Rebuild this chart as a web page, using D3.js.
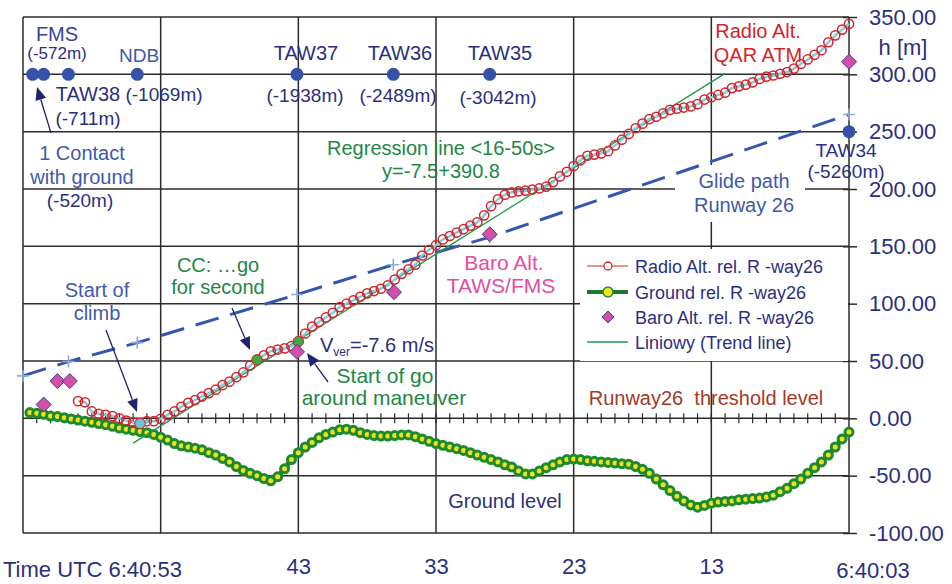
<!DOCTYPE html>
<html><head><meta charset="utf-8">
<script src="https://cdn.jsdelivr.net/npm/d3@7"></script>
<style>
body{margin:0;background:#fff}
svg{display:block}
text{font-family:"Liberation Sans",Arial,sans-serif}
</style>
</head><body>
<svg id="c" width="952" height="584"></svg>
<script>
// ---------- DATA ----------
// time = seconds after 6:40:00 UTC (axis runs from 6:41:03 on the left to 6:40:03 on the right)
const radioStartT = 59, groundStartT = 62.5, sampleStep = 0.5;
const radioAlt = [15,14,6,4,3,2,0,-2,-3.5,-4.5,
  -2.5,-2.5,-0.5,3,6,10,13.5,16,19,22,
  25,29,32,36,40,46,51,55,58.5,60,
  61,63,67,74,80,84,88,92,97,100,
  103,106,109,111,113,116,121,126,130,134,
  142,147,151,156,159,162,165,168,171,177,
  185,191,195,197,198,198.5,199.5,200.5,202,206,
  211,215,220,225,229,230,231,233,238,243,
  248,253,257,261,263,266,269,270,271,272,
  274,278,280,282,284,288,289.5,291,293,296,
  298,299,300.5,302,305,309,313,317,321,328,
  334,339,344];
const groundAlt = [5,4.5,3.5,2,1.5,0.5,-0.5,-1.5,-2.5,-3.5,
  -4.5,-5.5,-7,-8.5,-9.5,-10.5,-11.5,-12.5,-14,-16.5,
  -19,-22,-24,-25,-26,-27.5,-30,-32,-35,-38,
  -42,-45.5,-48,-50,-52.5,-54.5,-51,-44,-36,-30,
  -25,-21,-17,-14,-12,-10,-9.5,-10.5,-12.5,-14,
  -15,-15.5,-15.5,-15,-14.5,-14.5,-16,-18,-20,-22,
  -23.5,-25,-26.5,-28,-30,-32,-34,-36,-38,-40.5,
  -42.5,-46,-48.5,-48.5,-46,-43,-40.5,-38,-36,-35.5,
  -36,-37,-37.5,-38,-38.5,-39,-39.5,-40,-42,-44.5,
  -48,-53,-58,-63,-68,-72,-75.5,-77.5,-76,-74,
  -73,-72.5,-72,-71,-70.5,-70,-69.5,-68.5,-67,-64,
  -61,-57,-53,-48,-43,-38,-32,-25,-18,-12];
const baroT = [61.5,60.5,59.6,43.1,36.05,29.1,3];
const baroAlt = [12,32.5,32.5,58,110,160.5,311];
const waypointNames = ["Contact","FMS","TAW38","NDB","TAW37","TAW36","TAW35","TAW34"];
const waypointT = [62.3,61.5,59.7,54.7,43.1,36.1,29.1,3];
const waypointH = [300,300,300,300,300,300,300,250];
const glideT = [63,59.7,54.7,43.1,36.1,29.1,3];
const glideH = [37,49.5,66,108,134,158,265];
const trendRange = [55,12];           // regression fitted <16-50s>
const trendCoef = [-7.5,390.8];       // h = a*t + b
const eventT = [54.5,46,43];
const eventH = [-4.5,51,67];
const eventColor = ["#6cc6d9","#3ea845","#3ea845"];
const yTicks = [-100,-50,0,50,100,150,200,250,300,350];
const xGridT = [63,53,43,33,23,13,3];
const xTickLabels = ["43","33","23","13"];
const xTickT = [43,33,23,13];
const legendLabels = ["Radio Alt. rel. R -way26","Ground rel. R -way26","Baro Alt. rel. R -way26","Liniowy (Trend line)"];

// ---------- SCALES ----------
const svg = d3.select("#c");
svg.append("rect").attr("width",952).attr("height",584).attr("fill","#fff");
const x = d3.scaleLinear().domain([63,3]).range([23,849]);
const y = d3.scaleLinear().domain([-100,350]).range([533,17]);
const NAVY="#2b2f7e", MBLUE="#3f5aa8", GREEN="#1e8743", RED="#d4252b", PINK="#e04fa0", GRID="#2b2b2b";

const radio = radioAlt.map((h,i)=>({t:radioStartT - i*sampleStep, h}));
const ground = groundAlt.map((h,i)=>({t:groundStartT - i*sampleStep, h}));

// ---------- GRID ----------
const g = svg.append("g");
g.selectAll("line.hg").data(yTicks).enter().append("line")
  .attr("x1",x(63)).attr("x2",x(3)).attr("y1",d=>y(d)).attr("y2",d=>y(d))
  .attr("stroke",GRID).attr("stroke-width",1.5);
g.selectAll("line.vg").data(xGridT).enter().append("line")
  .attr("x1",d=>x(d)).attr("x2",d=>x(d)).attr("y1",y(350)).attr("y2",y(-100))
  .attr("stroke",GRID).attr("stroke-width",1.5);
// minor ticks on zero line
g.selectAll("line.mt").data(d3.range(62,3,-1)).enter().append("line")
  .attr("x1",d=>x(d)).attr("x2",d=>x(d)).attr("y1",y(0)-5).attr("y2",y(0)+5)
  .attr("stroke",GRID).attr("stroke-width",1.2);

// right axis
const yAxis = d3.axisRight(y).tickValues(yTicks).tickSizeInner(8).tickSizeOuter(0).tickPadding(12)
  .tickFormat(d=>d3.format(".2f")(d).replace("\u2212","-"));
const ya = svg.append("g").attr("transform",`translate(${x(3)},0)`).call(yAxis);
ya.select(".domain").remove();
ya.selectAll(".tick line").attr("x1",-6).attr("stroke",GRID).attr("stroke-width",1.5);
ya.selectAll(".tick text").attr("fill",NAVY).style("font-size","22px")
  .style("font-family",'"Liberation Sans",Arial,sans-serif');

// bottom axis labels
const xAxis = d3.axisBottom(x).tickValues(xTickT).tickSize(0).tickPadding(0).tickFormat((d,i)=>xTickLabels[i]);
const xa = svg.append("g").attr("transform","translate(0,558)").call(xAxis);
xa.select(".domain").remove();
xa.selectAll(".tick text").attr("fill",NAVY).style("font-size","22px")
  .style("font-family",'"Liberation Sans",Arial,sans-serif');

function txt(xp,yp,s,size,color,anchor){
  return svg.append("text").attr("x",xp).attr("y",yp).attr("fill",color)
    .attr("font-size",size).attr("text-anchor",anchor||"middle").style("white-space","pre").text(s);
}
txt(3,577,"Time UTC 6:40:53",22,NAVY,"start");
txt(873,578,"6:40:03",22,NAVY);
txt(903,55,"h [m]",22,NAVY);

// white box behind glide path label
svg.append("rect").attr("x",675).attr("y",165).attr("width",130).attr("height",57).attr("fill","#fff");

// ---------- GLIDE PATH ----------
const gp = glideT.map((t,i)=>({t,h:glideH[i]}));
svg.append("path").datum(gp)
  .attr("d",d3.line().x(d=>x(d.t)).y(d=>y(d.h)))
  .attr("fill","none").attr("stroke","#3556b0").attr("stroke-width",3)
  .attr("stroke-dasharray","24,12");
svg.selectAll("path.plus").data(gp).enter().append("path")
  .attr("d",d=>{const px=x(d.t),py=y(d.h);return `M${px-6},${py}H${px+6}M${px},${py-6}V${py+6}`;})
  .attr("stroke","#8fa8dc").attr("stroke-width",1.6);

// ---------- GROUND ----------
svg.append("path").datum(ground)
  .attr("d",d3.line().x(d=>x(d.t)).y(d=>y(d.h)))
  .attr("fill","none").attr("stroke","#1a7a2c").attr("stroke-width",5);
svg.selectAll("circle.gr").data(ground).enter().append("circle")
  .attr("cx",d=>x(d.t)).attr("cy",d=>y(d.h)).attr("r",4)
  .attr("fill","#f0e21a").attr("stroke","#1e8a30").attr("stroke-width",3);

// ---------- TREND ----------
svg.append("line")
  .attr("x1",x(trendRange[0])).attr("y1",y(trendCoef[0]*trendRange[0]+trendCoef[1]))
  .attr("x2",x(trendRange[1])).attr("y2",y(trendCoef[0]*trendRange[1]+trendCoef[1]))
  .attr("stroke","#1f9a48").attr("stroke-width",1.4);

// ---------- RADIO ----------
svg.append("path").datum(radio)
  .attr("d",d3.line().curve(d3.curveMonotoneX).x(d=>x(d.t)).y(d=>y(d.h)))
  .attr("fill","none").attr("stroke","#86c8dc").attr("stroke-width",2.4);
svg.selectAll("circle.ra").data(radio).enter().append("circle")
  .attr("cx",d=>x(d.t)).attr("cy",d=>y(d.h)).attr("r",4.6)
  .attr("fill","none").attr("stroke",RED).attr("stroke-width",1.5);
svg.selectAll("circle.ev").data(eventT).enter().append("circle")
  .attr("cx",d=>x(d)).attr("cy",(d,i)=>y(eventH[i])).attr("r",5.2)
  .attr("fill",(d,i)=>eventColor[i]).attr("stroke",RED).attr("stroke-width",1);

// ---------- BARO ----------
const dia = (px,py,r)=>`M${px},${py-r}L${px+r},${py}L${px},${py+r}L${px-r},${py}Z`;
svg.selectAll("path.baro").data(baroT).enter().append("path")
  .attr("d",(d,i)=>dia(x(d),y(baroAlt[i]),7.5))
  .attr("fill","#d64fa6").attr("stroke","#3a3f9c").attr("stroke-width",1);

// ---------- WAYPOINTS ----------
svg.selectAll("circle.wp").data(waypointT).enter().append("circle")
  .attr("cx",d=>x(d)).attr("cy",(d,i)=>y(waypointH[i])).attr("r",6.5)
  .attr("fill","#3552a8");

// ---------- LEGEND ----------
svg.append("rect").attr("x",580).attr("y",249).attr("width",268).attr("height",112).attr("fill","#fff");
const ly = [266,292,317,342];
svg.append("line").attr("x1",587).attr("x2",628).attr("y1",ly[0]).attr("y2",ly[0]).attr("stroke",RED).attr("stroke-width",1.2);
svg.append("circle").attr("cx",608).attr("cy",ly[0]).attr("r",4).attr("fill","#fff").attr("stroke",RED).attr("stroke-width",1.3);
svg.append("line").attr("x1",587).attr("x2",628).attr("y1",ly[1]).attr("y2",ly[1]).attr("stroke","#1a7a2c").attr("stroke-width",4);
svg.append("circle").attr("cx",608).attr("cy",ly[1]).attr("r",5).attr("fill","#f0e21a").attr("stroke","#1e8c32").attr("stroke-width",1.5);
svg.append("path").attr("d",dia(608,ly[2],6)).attr("fill","#d64fa6").attr("stroke","#3a3f9c").attr("stroke-width",1);
svg.append("line").attr("x1",587).attr("x2",628).attr("y1",ly[3]).attr("y2",ly[3]).attr("stroke","#1f9a48").attr("stroke-width",1.4);
legendLabels.forEach((s,i)=>txt(635,ly[i]+6.5,s,18,NAVY,"start"));

// ---------- ANNOTATIONS ----------
txt(57,41,"FMS",20,"#34449a");
txt(57,59,"(-572m)",17,NAVY);
txt(139,62,"NDB",19,"#3c5aa9");
txt(88,101,"TAW38",20,NAVY);
txt(164,101,"(-1069m)",19,NAVY);
txt(88,125,"(-711m)",19,NAVY);
txt(82,160,"1 Contact",20,MBLUE);
txt(82,184,"with ground",20,MBLUE);
txt(80,207,"(-520m)",19,NAVY);
txt(306,60,"TAW37",20,NAVY);
txt(305,102,"(-1938m)",19,NAVY);
txt(400,60,"TAW36",20,NAVY);
txt(398,102,"(-2489m)",19,NAVY);
txt(500,60,"TAW35",20,NAVY);
txt(498,104,"(-3042m)",19,NAVY);
txt(441,155,"Regression line <16-50s>",20,GREEN);
txt(441,178,"y=-7.5+390.8",20,GREEN);
txt(758,38,"Radio Alt.",20,RED);
txt(758,62,"QAR ATM",20,RED);
txt(846,157,"TAW34",19,NAVY);
txt(846,178,"(-5260m)",19,NAVY);
txt(744,188,"Glide path",20,MBLUE);
txt(744,212,"Runway 26",20,MBLUE);
txt(504,270,"Baro Alt.",21,PINK);
txt(501,293,"TAWS/FMS",21,PINK);
txt(97,297,"Start of",20,MBLUE);
txt(97,320,"climb",20,MBLUE);
txt(218,272,"CC: \u2026go",20,GREEN);
txt(218,294,"for second",20,GREEN);
const vt = svg.append("text").attr("x",320).attr("y",352).attr("fill",NAVY).attr("font-size",20);
vt.append("tspan").text("V");
vt.append("tspan").attr("font-size",12).attr("dy",4).text("ver");
vt.append("tspan").attr("dy",-4).text("=-7.6 m/s");
txt(385,383,"Start of go",21,GREEN);
txt(384,405,"around maneuver",21,GREEN);
txt(706,405,"Runway26  threshold level",20,"#a23a26");
txt(505,508,"Ground level",20,NAVY);

function arrow(x1,y1,x2,y2){
  const a = Math.atan2(y2-y1,x2-x1), L=13, W=5.5;
  const bx = x2 - L*Math.cos(a), by = y2 - L*Math.sin(a);
  svg.append("line").attr("x1",x1).attr("y1",y1).attr("x2",bx).attr("y2",by)
    .attr("stroke","#1f2470").attr("stroke-width",1.3);
  const px=-Math.sin(a), py=Math.cos(a);
  svg.append("path").attr("d",`M${x2},${y2}L${bx+W*px},${by+W*py}L${bx-W*px},${by-W*py}Z`).attr("fill","#1f2470");
}
arrow(51,133,37,87);
arrow(106,330,137,412);
arrow(232,308,250,350);
arrow(328,382,307,353);
</script>
</body></html>
